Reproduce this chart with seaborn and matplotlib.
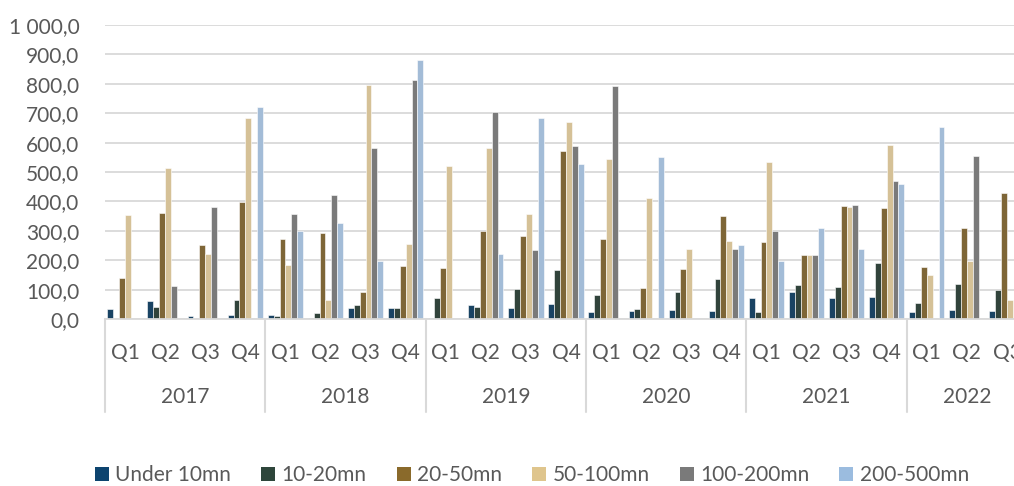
import numpy as np
import pandas as pd
import matplotlib
matplotlib.use("Agg")
import matplotlib.pyplot as plt
import matplotlib.transforms as mtransforms
from matplotlib.patches import Patch
import seaborn as sns

years = ["2017", "2018", "2019", "2020", "2021", "2022"]
quarters_per_year = [4, 4, 4, 4, 4, 3]
quarter_names = ["Q1", "Q2", "Q3", "Q4"]
series = ["Under 10mn", "10-20mn", "20-50mn", "50-100mn", "100-200mn", "200-500mn"]
colors = ["#0D446F", "#2E463B", "#8A6A2B", "#DFC58D", "#7A7A7A", "#9BBCDF"]

under_10 = [35, 62, 10, 15, 15, 3, 38, 37, 3, 48, 37, 52, 25, 28, 30, 27, 70, 93, 72, 75, 25, 30, 28]
m10_20 = [0, 40, 0, 65, 10, 22, 47, 37, 72, 40, 103, 165, 82, 33, 92, 135, 25, 115, 110, 192, 55, 118, 98]
m20_50 = [140, 360, 250, 397, 272, 291, 92, 180, 172, 300, 281, 570, 272, 105, 170, 352, 263, 218, 383, 377, 178, 310, 430]
m50_100 = [355, 513, 220, 683, 183, 63, 797, 255, 520, 583, 358, 670, 545, 410, 238, 265, 533, 218, 380, 593, 150, 198, 65]
m100_200 = [0, 113, 380, 0, 358, 423, 580, 812, 0, 703, 235, 590, 792, 0, 0, 237, 300, 218, 387, 470, 0, 555, np.nan]
m200_500 = [0, 0, 0, 722, 298, 326, 198, 880, 0, 220, 682, 528, 0, 550, 0, 250, 198, 308, 238, 458, 652, 0, np.nan]

values = [under_10, m10_20, m20_50, m50_100, m100_200, m200_500]

periods = []
qlabels = []
for y, n in zip(years, quarters_per_year):
    for q in quarter_names[:n]:
        periods.append(f"{y} {q}")
        qlabels.append(q)

rows = []
for s, vals in zip(series, values):
    for p, v in zip(periods, vals):
        rows.append({"period": p, "series": s, "value": v})
df = pd.DataFrame(rows).dropna()

sns.set_theme(style="white")
plt.rcParams["font.family"] = ["Lato", "DejaVu Sans"]

W, H = 1014, 486
fig = plt.figure(figsize=(W / 100, H / 100), dpi=100)
ax_left, ax_right, ax_top, ax_bottom = 105, 1027, 25, 319
ax = fig.add_axes([ax_left / W, 1 - ax_bottom / H, (ax_right - ax_left) / W, (ax_bottom - ax_top) / H])

sns.barplot(data=df, x="period", y="value", hue="series", order=periods,
            hue_order=series, palette=colors, width=0.88, gap=0,
            edgecolor="white", linewidth=0.4, ax=ax, legend=False, errorbar=None)

ax.set_ylim(0, 1000)
ax.set_xlim(-0.5, len(periods) - 0.5)
ax.set_yticks(np.arange(0, 1001, 100))
ax.set_yticklabels([f"{v:,.1f}".replace(",", " ").replace(".", ",") for v in np.arange(0, 1001, 100)])
ax.yaxis.grid(True, color="#D9D9D9", linewidth=1.3)
ax.set_axisbelow(True)
for s in ["left", "right", "top"]:
    ax.spines[s].set_visible(False)
ax.spines["bottom"].set_color("#D9D9D9")
ax.spines["bottom"].set_linewidth(1.3)
ax.set_xlabel("")
ax.set_ylabel("")
ax.set_xticks(range(len(periods)))
ax.set_xticklabels(qlabels)
ax.tick_params(axis="x", length=0, pad=17, labelsize=15, labelcolor="#595959")
ax.tick_params(axis="y", length=0, pad=18.5, labelsize=15, labelcolor="#595959")

trans = mtransforms.blended_transform_factory(ax.transData, ax.transAxes)
axh = ax_bottom - ax_top
year_y = -(397 - ax_bottom) / axh
sep_y = -(412 - ax_bottom) / axh
start = 0
bounds = [-0.5]
for y, n in zip(years, quarters_per_year):
    center = start + (n - 1) / 2
    ax.text(center, year_y, y, transform=trans, ha="center", va="center",
            fontsize=15, color="#595959")
    start += n
    bounds.append(start - 0.5)
for b in bounds:
    ax.plot([b, b], [0, sep_y], transform=trans, color="#D9D9D9", lw=1.5, clip_on=False)

handles = [Patch(facecolor=c, edgecolor="none") for c in colors]
fig.legend(handles, series, loc="center", bbox_to_anchor=(532 / W, 1 - 475 / H),
           ncol=6, frameon=False, fontsize=15, handlelength=0.67, handleheight=0.67,
           handletextpad=0.3, columnspacing=1.45, borderpad=0, labelcolor="#595959")

fig.savefig("out.png", dpi=100)
